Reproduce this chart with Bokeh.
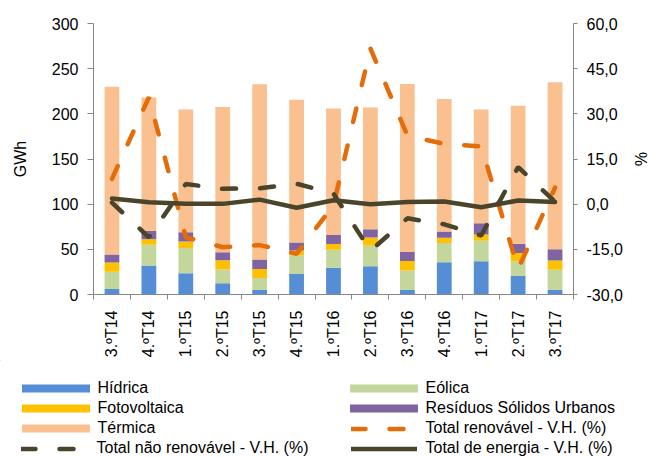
from math import pi
from bokeh.plotting import figure
from bokeh.layouts import column
from bokeh.models import (Range1d, LinearAxis, FixedTicker, CustomJSTickFormatter,
                          Legend, LegendItem, ColumnDataSource)
from bokeh.embed import file_html
from bokeh.resources import INLINE

# ---------------- data ----------------
categories = ["3.ºT14", "4.ºT14", "1.ºT15", "2.ºT15", "3.ºT15", "4.ºT15", "1.ºT16",
              "2.ºT16", "3.ºT16", "4.ºT16", "1.ºT17", "2.ºT17", "3.ºT17"]
hidrica = [6.2, 32.1, 23.4, 12.4, 5.1, 22.6, 29.6, 31.4, 5.1, 35.8, 36.9, 20.4, 5.1]
eolica = [19.0, 23.0, 28.0, 15.3, 13.2, 20.5, 20.0, 22.6, 21.6, 21.2, 22.6, 16.5, 22.3]
fotovoltaica = [10.2, 6.0, 7.3, 10.3, 9.8, 5.5, 6.2, 9.2, 10.5, 5.8, 6.9, 9.1, 10.2]
rsu = [9.0, 9.5, 10.2, 8.7, 10.6, 9.1, 10.2, 9.1, 9.9, 6.9, 12.5, 10.2, 12.4]
termica = [185.5, 147.5, 136.0, 161.0, 194.0, 158.0, 140.0, 134.7, 186.0, 146.8, 126.0, 152.8, 185.0]

total_renovavel = [8.4, 35.5, -11.0, -14.3, -13.6, -16.5, -0.3, 51.7, 22.8, 20.0, 19.2, -21.5, 5.5]
total_nao_renovavel = [0.5, -11.0, 6.7, 5.1, 5.3, 6.8, 3.5, -15.5, -4.7, -6.7, -10.4, 12.3, 0.8]
total_energia = [1.9, 0.6, 0.1, 0.1, 1.5, -1.2, 1.3, 0.0, 0.7, 0.9, -1.0, 1.2, 0.7]

gwh_ticks = [0, 50, 100, 150, 200, 250, 300]
pct_ticks = [-30, -15, 0, 15, 30, 45, 60]

series_names = ["Hídrica", "Eólica", "Fotovoltaica", "Resíduos Sólidos Urbanos", "Térmica"]
series_keys = ["hidrica", "eolica", "fotovoltaica", "rsu", "termica"]
series_colors = ["#558ED5", "#C3D69B", "#FFC000", "#8064A2", "#FAC090"]
line_names = ["Total renovável - V.H. (%)", "Total não renovável - V.H. (%)",
              "Total de energia - V.H. (%)"]
line_colors = ["#E46C0A", "#4A452A", "#4A452A"]
line_dashes = ["14 24", "14 24", "solid"]

FONT = "Liberation Sans"
AXIS_COLOR = "#868686"

xs = list(range(1, len(categories) + 1))
source = ColumnDataSource(dict(x=xs, hidrica=hidrica, eolica=eolica, fotovoltaica=fotovoltaica,
                               rsu=rsu, termica=termica, ren=total_renovavel,
                               nren=total_nao_renovavel, tot=total_energia))

p = figure(width=651, height=360, output_backend="svg", toolbar_location=None,
           x_range=Range1d(0.5, len(categories) + 0.5), y_range=Range1d(0, 300),
           min_border_left=93, min_border_right=74, min_border_top=23, min_border_bottom=63)
p.frame_align = False
p.xgrid.visible = False
p.ygrid.visible = False
p.outline_line_color = None
p.extra_y_ranges = {"pct": Range1d(-30, 60)}

p.vbar_stack(series_keys, x="x", width=0.4, color=series_colors, line_color=None, source=source)

for key, col, dash in zip(["ren", "nren", "tot"], line_colors, line_dashes):
    p.line("x", key, source=source, y_range_name="pct", line_color=col,
           line_width=4.5, line_dash=dash, line_cap="round")

# x axis
xa = p.xaxis[0]
xa.ticker = FixedTicker(ticks=xs, minor_ticks=[i + 0.5 for i in range(len(categories) + 1)])
xa.major_label_overrides = {x: c for x, c in zip(xs, categories)}
xa.major_label_orientation = pi / 2
xa.major_tick_out = 0
xa.major_tick_in = 0
xa.minor_tick_out = 5
xa.minor_tick_in = 0
xa.minor_tick_line_color = AXIS_COLOR
xa.axis_line_color = AXIS_COLOR
xa.major_label_standoff = 11
xa.major_label_text_font = FONT
xa.major_label_text_font_size = "16px"
xa.major_label_text_color = "#000000"

# left axis
ya = p.yaxis[0]
ya.ticker = FixedTicker(ticks=gwh_ticks)
ya.axis_label = "GWh"
ya.axis_label_standoff = 20
ya.axis_label_text_font = FONT
ya.axis_label_text_font_size = "16px"
ya.axis_label_text_font_style = "normal"
ya.axis_label_text_color = "#000000"
ya.major_tick_out = 6
ya.major_tick_in = 0
ya.minor_tick_out = 0
ya.minor_tick_in = 0
ya.major_label_standoff = 9
ya.axis_line_color = AXIS_COLOR
ya.major_tick_line_color = AXIS_COLOR
ya.major_label_text_font = FONT
ya.major_label_text_font_size = "16px"
ya.major_label_text_color = "#000000"

# right axis
ra = LinearAxis(y_range_name="pct", ticker=FixedTicker(ticks=pct_ticks),
                formatter=CustomJSTickFormatter(code="return tick.toFixed(1).replace('.', ',');"))
ra.axis_label = "%"
ra.axis_label_standoff = 6
ra.axis_label_text_font = FONT
ra.axis_label_text_font_size = "16px"
ra.axis_label_text_font_style = "normal"
ra.axis_label_text_color = "#000000"
ra.major_tick_out = 4
ra.major_tick_in = 0
ra.minor_tick_out = 0
ra.minor_tick_in = 0
ra.major_label_standoff = 9
ra.axis_line_color = AXIS_COLOR
ra.major_tick_line_color = AXIS_COLOR
ra.major_label_text_font = FONT
ra.major_label_text_font_size = "16px"
ra.major_label_text_color = "#000000"
p.add_layout(ra, "right")

# ---------------- legend panel (separate figure below) ----------------
lf = figure(width=651, height=97, output_backend="svg", toolbar_location=None,
            x_range=Range1d(0, 1), y_range=Range1d(0, 1),
            x_axis_location=None, y_axis_location=None, min_border=0)
lf.frame_align = False
lf.xgrid.visible = False
lf.ygrid.visible = False
lf.outline_line_color = None
lf.background_fill_color = "white"
lf.border_fill_color = "white"

# legend proxies: one mark each, placed far outside the visible range of the legend panel
bar_r = [lf.vbar(x=[-50], bottom=[50], top=[51], width=0.4, color=c, line_color=None)
         for c in series_colors]
line_r = [lf.line(x=[-51, -50], y=[50, 50], line_color=c, line_width=4.5, line_dash=d,
                  line_cap="round")
          for c, d in zip(line_colors, line_dashes)]


def make_legend(pairs, loc, gw, gh, standoff):
    leg = Legend(items=[LegendItem(label=t, renderers=[r]) for t, r in pairs],
                 location=loc, orientation="vertical",
                 glyph_width=gw, glyph_height=gh, label_height=19, label_standoff=standoff,
                 spacing=1, padding=0, margin=0, border_line_color=None,
                 background_fill_alpha=0, label_text_font=FONT,
                 label_text_font_size="16px", label_text_color="#000000")
    lf.add_layout(leg)


make_legend([(series_names[0], bar_r[0]), (series_names[2], bar_r[2]),
             (series_names[4], bar_r[4])], (12.5, 19.5), 85, 10, 0)
make_legend([(line_names[1], line_r[1])], (20.5, -0.5), 66, 19, 10)
make_legend([(series_names[1], bar_r[1]), (series_names[3], bar_r[3])],
            (340.5, 39.5), 85, 10, 0)
make_legend([(line_names[0], line_r[0]), (line_names[2], line_r[2])],
            (350.5, -0.5), 66, 19, 9)

layout = column(p, lf, spacing=0)
open("out.html", "w").write(file_html(layout, INLINE))
